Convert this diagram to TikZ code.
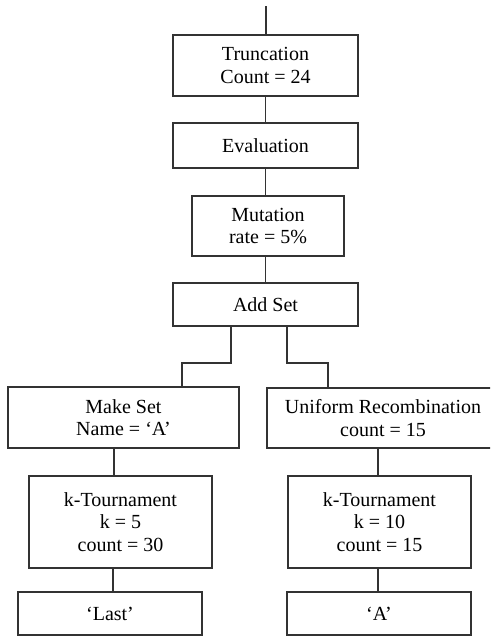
\documentclass[tikz,border=0pt]{standalone}
\usepackage{fontspec}
\setmainfont{Liberation Serif}
\begin{document}
\begin{tikzpicture}[x=0.75pt,y=-0.75pt,
  box/.style={draw=black!80,line width=0.8pt,inner sep=0pt,align=center,
    font=\fontsize{15pt}{17pt}\selectfont},
  conn/.style={draw=black!80,line width=0.8pt}]
\useasboundingbox (0,0) rectangle (490,636);
\clip (0,0) rectangle (490,636);
% top chain
\node[box,minimum width=138.75pt,minimum height=45.75pt] (trunc) at (265.5,65.5) {Truncation\\Count = 24};
\node[box,minimum width=138.75pt,minimum height=33.75pt] (eval) at (265.5,145.5) {Evaluation};
\node[box,minimum width=114pt,minimum height=45pt] (mut) at (268,226) {Mutation\\rate = 5\%};
\node[box,minimum width=138.75pt,minimum height=32.25pt] (add) at (265.5,304.5) {Add Set};
% left branch
\node[box,minimum width=173.25pt,minimum height=45.75pt] (make) at (123.5,417.5) {Make Set\\Name = ‘A’};
\node[box,minimum width=137.25pt,minimum height=69pt] (kt1) at (120.5,522) {k-Tournament\\k = 5\\count = 30};
\node[box,minimum width=138pt,minimum height=32.25pt] (last) at (110,613.5) {‘Last’};
% right branch
\node[box,minimum width=174pt,minimum height=45pt] (unif) at (383,418) {Uniform Recombination\\count = 15};
\node[box,minimum width=137.25pt,minimum height=69pt] (kt2) at (379.5,522) {k-Tournament\\k = 10\\count = 15};
\node[box,minimum width=138pt,minimum height=32.25pt] (alast) at (379,613.5) {‘A’};
% connectors
\coordinate (top) at (266,6);
\draw[conn] (top) -- (top |- trunc.north);
\draw[conn] (trunc.south) -- (eval.north);
\draw[conn] (eval.south) -- (eval.south |- mut.north);
\draw[conn] (eval.south |- mut.south) -- (add.north);
\coordinate (L) at (231,363);
\coordinate (Lm) at (182,363);
\coordinate (R) at (287,363);
\coordinate (Rm) at (328,363);
\draw[conn] (L |- add.south) -- (L) -- (Lm) -- (Lm |- make.north);
\draw[conn] (R |- add.south) -- (R) -- (Rm) -- (Rm |- unif.north);
\coordinate (m1) at (114,0);
\coordinate (m2) at (113,0);
\coordinate (m3) at (378,0);
\draw[conn] (m1 |- make.south) -- (m1 |- kt1.north);
\draw[conn] (m2 |- kt1.south) -- (m2 |- last.north);
\draw[conn] (m3 |- unif.south) -- (m3 |- kt2.north);
\draw[conn] (m3 |- kt2.south) -- (m3 |- alast.north);
\end{tikzpicture}
\end{document}
